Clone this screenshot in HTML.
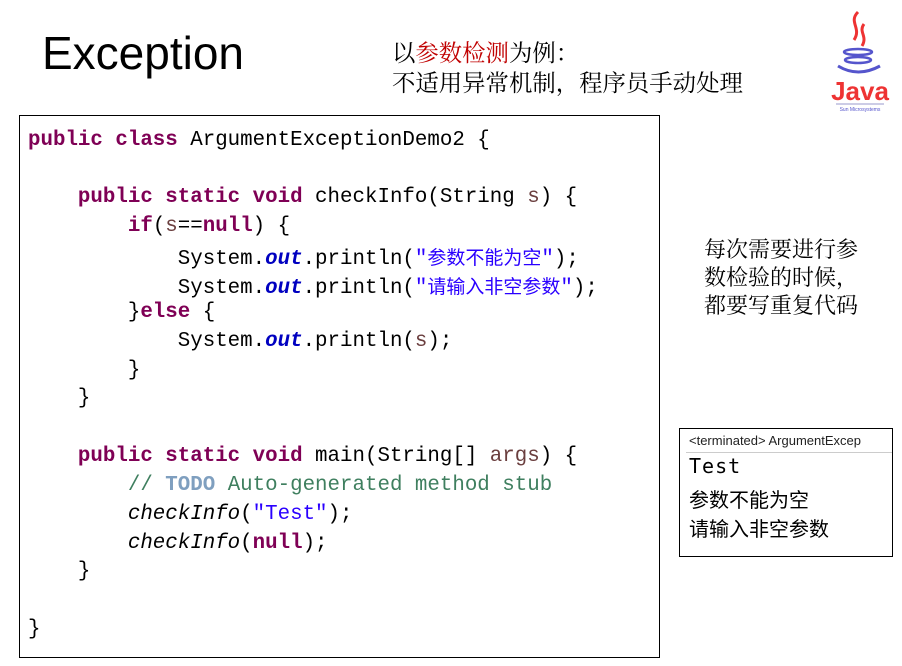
<!DOCTYPE html>
<html><head><meta charset="utf-8"><style>
body{margin:0;width:902px;height:666px;background:#fff;position:relative;overflow:hidden;font-family:"Liberation Sans","Noto Sans CJK SC",sans-serif}
.a{position:absolute;white-space:nowrap}
.code{position:absolute;left:19px;top:115px;width:641px;height:543px;border:1.5px solid #000;box-sizing:border-box}
.l{position:absolute;white-space:pre;font-family:"Liberation Mono","Noto Sans CJK SC",monospace;font-size:20.8px;line-height:24px;color:#000}
.k{color:#7f0055;font-weight:bold}
.s{color:#2a00ff}
.o{color:#0000c0;font-weight:bold;font-style:italic}
.v{color:#6a3e3e}
.c{color:#3f7f5f}
.t{color:#7f9fbf;font-weight:bold}
.cj{font-family:"Noto Sans CJK SC",sans-serif;font-size:19px}
</style></head><body>
<div class="a" style="left:42px;top:26px;font-size:46px;color:#000">Exception</div>
<div class="a" style="left:392px;top:36px;font-size:23.4px;line-height:30px;font-family:'Noto Serif CJK SC',serif">以<span style="color:#c00000">参数检测</span>为例：<br>不适用异常机制，程序员手动处理</div>
<svg class="a" style="left:828px;top:8px" width="64" height="108" viewBox="0 0 64 108">
<path d="M30 4 C20 14 34 20 26 32 M36 16 C30 24 40 28 34 38" stroke="#e33" stroke-width="3" fill="none"/>
<ellipse cx="30" cy="44" rx="14" ry="3" fill="none" stroke="#55c" stroke-width="2.5"/>
<ellipse cx="30" cy="52" rx="13" ry="3" fill="none" stroke="#55c" stroke-width="2.5"/>
<path d="M10 58 Q30 70 52 58" stroke="#55c" stroke-width="3" fill="none"/>
<text x="32" y="92" text-anchor="middle" font-family="Liberation Sans Narrow, Liberation Sans" font-weight="bold" font-size="26" fill="#e33">Java</text>
<line x1="8" y1="96" x2="56" y2="96" stroke="#99c" stroke-width="1"/>
<text x="32" y="103" text-anchor="middle" font-family="Liberation Sans" font-size="5" fill="#55c">Sun Microsystems</text>
</svg>
<div class="code">
<div class="l" style="left:8px;top:13px"><span class="k">public class</span> ArgumentExceptionDemo2 {</div>
<div class="l" style="left:8px;top:70px">    <span class="k">public static void</span> checkInfo(String <span class="v">s</span>) {</div>
<div class="l" style="left:8px;top:99px">        <span class="k">if</span>(<span class="v">s</span>==<span class="k">null</span>) {</div>
<div class="l" style="left:8px;top:129px">            System.<span class="o">out</span>.println(<span class="s">"<span class="cj">参数不能为空</span>"</span>);</div>
<div class="l" style="left:8px;top:158px">            System.<span class="o">out</span>.println(<span class="s">"<span class="cj">请输入非空参数</span>"</span>);</div>
<div class="l" style="left:8px;top:185px">        }<span class="k">else</span> {</div>
<div class="l" style="left:8px;top:214px">            System.<span class="o">out</span>.println(<span class="v">s</span>);</div>
<div class="l" style="left:8px;top:243px">        }</div>
<div class="l" style="left:8px;top:271px">    }</div>
<div class="l" style="left:8px;top:329px">    <span class="k">public static void</span> main(String[] <span class="v">args</span>) {</div>
<div class="l" style="left:8px;top:358px">        <span class="c">// <span class="t">TODO</span> Auto-generated method stub</span></div>
<div class="l" style="left:8px;top:387px">        <i>checkInfo</i>(<span class="s">"Test"</span>);</div>
<div class="l" style="left:8px;top:416px">        <i>checkInfo</i>(<span class="k">null</span>);</div>
<div class="l" style="left:8px;top:444px">    }</div>
<div class="l" style="left:8px;top:502px">}</div>
</div>
<div class="a" style="left:704px;top:235px;font-size:22px;line-height:28px;font-family:'Noto Serif CJK SC',serif">每次需要进行参<br>数检验的时候，<br>都要写重复代码</div>
<div class="a" style="left:679px;top:428px;width:214px;height:129px;border:1.5px solid #000;box-sizing:border-box;overflow:hidden">
<div class="a" style="left:9px;top:4px;font-size:13px;color:#222">&lt;terminated&gt; ArgumentExcep</div>
<div class="a" style="left:6px;top:23px;width:210px;border-top:1px solid #ccc"></div>
<div class="a" style="left:9px;top:25px;font-size:20px;letter-spacing:1px;font-family:'DejaVu Sans Mono',monospace">Test</div>
<div class="a" style="left:9px;top:55px;font-size:20px">参数不能为空</div>
<div class="a" style="left:9px;top:84px;font-size:20px">请输入非空参数</div>
</div>
</body></html>
